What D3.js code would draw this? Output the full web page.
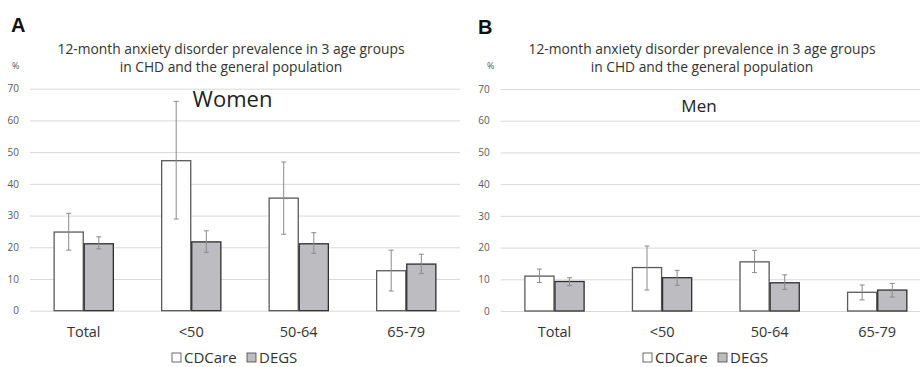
<!DOCTYPE html>
<meta charset="utf-8">
<script src="https://d3js.org/d3.v7.min.js"></script>
<style>
  body { margin: 0; background: #fff; }
  text { font-family: "Open Sans", "Noto Sans", sans-serif; }
</style>
<div id="chart"></div>
<script>

// categories and series (%)
var categories = ["Total", "<50", "50-64", "65-79"];
var seriesNames = ["CDCare", "DEGS"];
var yTicks = [0, 10, 20, 30, 40, 50, 60, 70];

var womenCDCare   = [24.8, 47.3, 35.5, 12.6];
var womenCDCareLo = [19.1, 28.9, 24.1, 6.2];
var womenCDCareHi = [30.7, 66.0, 46.9, 19.1];
var womenDEGS     = [21.1, 21.7, 21.1, 14.7];
var womenDEGSLo   = [19.5, 18.4, 18.1, 11.7];
var womenDEGSHi   = [23.3, 25.2, 24.6, 17.8];

var menCDCare   = [11.0, 13.7, 15.5, 5.9];
var menCDCareLo = [9.0, 6.6, 12.1, 3.5];
var menCDCareHi = [13.2, 20.5, 19.1, 8.2];
var menDEGS     = [9.3, 10.5, 8.9, 6.6];
var menDEGSLo   = [8.0, 8.1, 6.8, 4.4];
var menDEGSHi   = [10.5, 12.8, 11.4, 8.7];

var fills = { CDCare: "#ffffff", DEGS: "#bdbdc1" };
var strokes = { CDCare: "#5a5a5a", DEGS: "#2e2e2e" };

var svg = d3.select("#chart").append("svg")
    .attr("width", 920)
    .attr("height", 367);

function buildRows(v, lo, hi) {
  return categories.map(function(c, i) {
    return { cat: c, value: v[i], lo: lo[i], hi: hi[i] };
  });
}

function drawPanel(opt) {
  var g = svg.append("g");

  var x0 = d3.scaleBand()
      .domain(categories)
      .range([opt.left, opt.right])
      .paddingInner(0.44)
      .paddingOuter(0.22);

  var x1 = d3.scaleBand()
      .domain(seriesNames)
      .range([0, x0.bandwidth()]);

  var y = d3.scaleLinear()
      .domain([0, 70])
      .range([opt.bottom, opt.top]);

  // panel B's grid stops at the page edge
  var gridW = Math.min(opt.right, 920) - opt.left;

  var yAxis = g.append("g")
      .attr("transform", "translate(" + opt.left + ",0)")
      .call(d3.axisLeft(y).tickValues(yTicks).tickSize(-gridW).tickPadding(11));
  yAxis.select(".domain").remove();
  yAxis.selectAll(".tick line").attr("stroke", "#d9d9d9").attr("stroke-width", 1);
  yAxis.selectAll(".tick text")
      .attr("fill", "#595959")
      .style("font-size", "10px");

  // percent sign above axis
  g.append("text")
      .attr("x", opt.pctX)
      .attr("y", opt.top - 20)
      .attr("text-anchor", "start")
      .attr("fill", "#595959")
      .style("font-size", "9px")
      .text("%");

  var series = {
    CDCare: buildRows(opt.cd, opt.cdLo, opt.cdHi),
    DEGS: buildRows(opt.de, opt.deLo, opt.deHi)
  };

  seriesNames.forEach(function(s) {
    var grp = g.append("g");
    grp.selectAll("rect")
      .data(series[s])
      .enter()
      .append("rect")
        .attr("x", function(d) { return x0(d.cat) + x1(s) + 0.5; })
        .attr("y", function(d) { return y(d.value); })
        .attr("width", x1.bandwidth() - 1)
        .attr("height", function(d) { return y(0) - y(d.value); })
        .attr("fill", fills[s])
        .attr("stroke", strokes[s])
        .attr("stroke-width", 1.3);

    var cx = function(d) { return x0(d.cat) + x1(s) + x1.bandwidth() / 2; };

    grp.selectAll(".err")
      .data(series[s])
      .enter()
      .append("line")
        .attr("x1", cx).attr("x2", cx)
        .attr("y1", function(d) { return y(d.lo); })
        .attr("y2", function(d) { return y(d.hi); })
        .attr("stroke", "#8a8a8a")
        .attr("stroke-width", 1);

    ["lo", "hi"].forEach(function(k) {
      grp.selectAll(".cap-" + k)
        .data(series[s])
        .enter()
        .append("line")
          .attr("x1", function(d) { return cx(d) - 2.5; })
          .attr("x2", function(d) { return cx(d) + 2.5; })
          .attr("y1", function(d) { return y(d[k]); })
          .attr("y2", function(d) { return y(d[k]); })
          .attr("stroke", "#8a8a8a")
          .attr("stroke-width", 1);
    });
  });

  // category labels
  g.selectAll(".cat")
    .data(categories)
    .enter()
    .append("text")
      .attr("x", function(d) { return x0(d) + x0.bandwidth() / 2; })
      .attr("y", opt.bottom + 26)
      .attr("text-anchor", "middle")
      .attr("fill", "#333")
      .style("font-size", "14.5px")
      .text(function(d) { return d; });

  // panel letter
  g.append("text")
      .attr("x", opt.letterX)
      .attr("y", opt.letterY)
      .attr("font-weight", "bold")
      .attr("fill", "#111")
      .style("font-family", "Liberation Sans, Arial, sans-serif")
      .style("font-size", "20px")
      .text(opt.letter);

  // title
  var title = g.append("text")
      .attr("text-anchor", "middle")
      .attr("fill", "#333")
      .style("font-size", "13.8px");
  title.append("tspan").attr("x", opt.titleX).attr("y", 54)
      .text("12-month anxiety disorder prevalence in 3 age groups");
  title.append("tspan").attr("x", opt.titleX).attr("y", 72)
      .text("in CHD and the general population");

  // sex label
  g.append("text")
      .attr("x", opt.subX)
      .attr("y", opt.subY)
      .attr("text-anchor", "middle")
      .attr("fill", "#222")
      .style("font-size", opt.subSize)
      .text(opt.sub);

  // legend
  var lg = g.append("g").attr("transform", "translate(" + opt.legendX + ",363)");
  var offs = [0, 75];
  seriesNames.forEach(function(s, i) {
    lg.append("rect")
        .attr("x", offs[i])
        .attr("y", -10)
        .attr("width", 9)
        .attr("height", 9)
        .attr("fill", fills[s])
        .attr("stroke", "#444")
        .attr("stroke-width", 0.8);
    lg.append("text")
        .attr("x", offs[i] + 12)
        .attr("y", 0)
        .attr("fill", "#333")
        .style("font-size", "15px")
        .text(s);
  });
}

drawPanel({
  left: 30, right: 460, top: 88.7, bottom: 310.7,
  cd: womenCDCare, cdLo: womenCDCareLo, cdHi: womenCDCareHi,
  de: womenDEGS, deLo: womenDEGSLo, deHi: womenDEGSHi,
  letter: "A", letterX: 11, letterY: 32, pctX: 12,
  titleX: 231, sub: "Women", subX: 232.5, subY: 107, subSize: "22px",
  legendX: 172
});

drawPanel({
  left: 500.7, right: 931, top: 89, bottom: 311,
  cd: menCDCare, cdLo: menCDCareLo, cdHi: menCDCareHi,
  de: menDEGS, deLo: menDEGSLo, deHi: menDEGSHi,
  letter: "B", letterX: 478, letterY: 34, pctX: 487,
  titleX: 702, sub: "Men", subX: 699, subY: 112, subSize: "17px",
  legendX: 643
});

</script>
